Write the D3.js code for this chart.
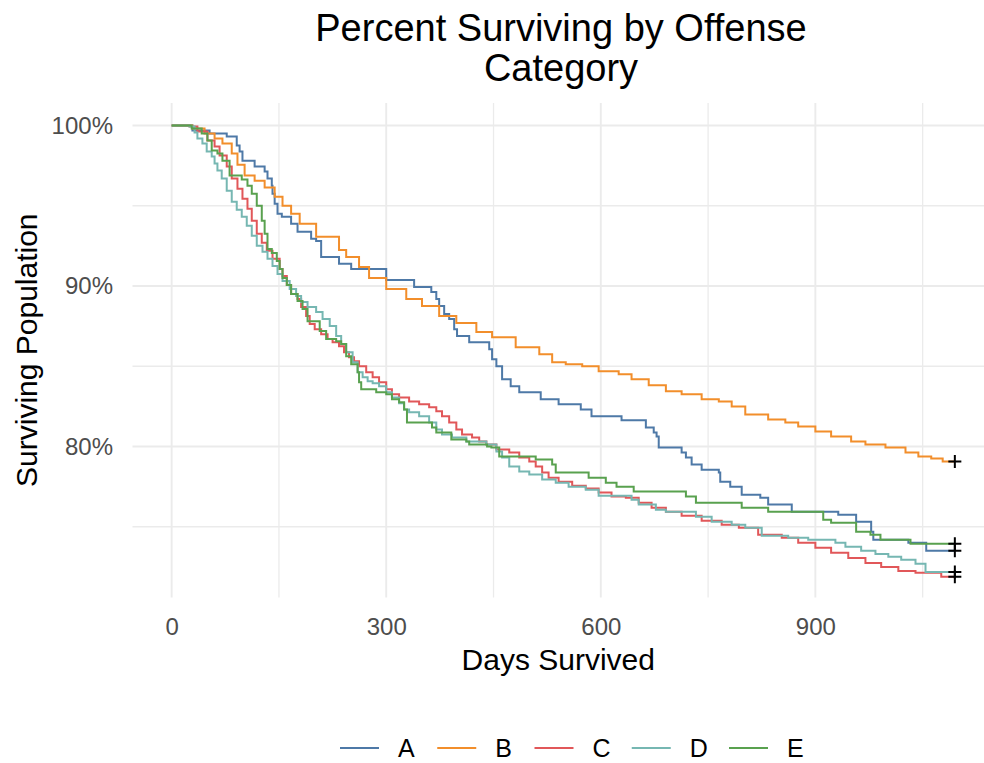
<!DOCTYPE html>
<html>
<head>
<meta charset="utf-8">
<script src="https://cdn.jsdelivr.net/npm/d3@7"></script>
<style>
  body { margin: 0; background: #fff; }
  svg { font-family: "Liberation Sans", Arial, sans-serif; display: block; }
</style>
</head>
<body>
<div class="diagram"></div>
<script>
// survival curves: [days, percent surviving]
var categories = ["A", "B", "C", "D", "E"];
var colors = ["#4E79A7", "#F28E2B", "#E15759", "#76B7B2", "#59A14F"];

var seriesA = [[0,100],[29,99.69],[53,99.5],[77,99.31],[91,98.75],[95,98.38],[99,97.81],[116,97.44],[130,97.13],[134,96.69],[140,96.25],[141,95.75],[144,95.13],[148,94.5],[154,94.31],[167,93.88],[176,93.38],[195,92.94],[202,92.81],[209,91.81],[234,91.38],[251,91.06],[300,90.38],[339,89.94],[363,89.63],[370,89.19],[374,88.75],[381,88.25],[388,87.94],[395,87.31],[399,86.88],[416,86.5],[444,86.06],[448,85.44],[454,85.0],[462,84.19],[474,83.75],[486,83.38],[516,82.94],[541,82.63],[572,82.31],[587,81.88],[629,81.63],[663,81.19],[674,80.88],[678,80.63],[681,79.94],[713,79.63],[719,79.31],[727,78.88],[741,78.56],[765,78.38],[767,77.81],[781,77.5],[797,77.0],[823,76.81],[834,76.38],[867,75.94],[932,75.75],[957,75.31],[978,74.69],[981,74.19],[1030,74.0],[1055,73.5],[1095,73.5]];

var seriesB = [[0,100],[29,99.81],[46,99.5],[60,99.19],[71,98.88],[84,98.25],[92,97.56],[102,96.88],[116,96.56],[130,96.13],[144,95.56],[155,95.0],[167,94.5],[179,93.88],[202,93.06],[234,92.25],[244,91.81],[262,91.19],[276,90.5],[300,89.81],[328,89.19],[350,88.75],[374,88.13],[398,87.69],[426,87.13],[448,86.81],[481,86.19],[514,85.75],[532,85.25],[551,85.13],[574,85.0],[597,84.69],[625,84.5],[643,84.19],[667,83.81],[691,83.44],[713,83.25],[741,82.94],[765,82.81],[783,82.5],[802,82.0],[834,81.69],[858,81.5],[876,81.25],[900,80.94],[922,80.63],[950,80.31],[970,80.13],[998,79.94],[1026,79.63],[1044,79.38],[1062,79.25],[1078,79.06],[1095,79.06]];

var seriesC = [[0,100],[25,99.94],[36,99.63],[50,99.06],[60,98.69],[67,98.13],[77,97.44],[84,96.69],[92,96.06],[99,95.44],[106,94.81],[112,94.06],[119,93.25],[126,92.69],[133,92.19],[141,91.69],[151,91.06],[155,90.63],[161,90.06],[167,89.5],[176,89.19],[181,88.69],[188,88.13],[193,87.63],[200,87.31],[209,87.0],[218,86.69],[225,86.5],[234,86.25],[241,85.88],[248,85.56],[255,85.31],[262,85.0],[272,84.63],[281,84.31],[290,84.0],[300,83.56],[308,83.25],[318,83.06],[332,82.81],[346,82.63],[360,82.44],[370,82.19],[378,81.88],[388,81.5],[398,81.06],[406,80.75],[420,80.56],[430,80.31],[440,80.13],[454,79.81],[472,79.63],[486,79.31],[500,79.06],[509,78.75],[518,78.38],[527,78.06],[541,77.81],[560,77.56],[579,77.38],[597,77.13],[615,76.88],[635,76.81],[653,76.5],[671,76.19],[691,75.94],[713,75.69],[741,75.38],[769,75.13],[793,74.94],[820,74.5],[853,74.31],[876,74.0],[900,73.69],[922,73.38],[946,73.06],[970,72.75],[992,72.5],[1016,72.25],[1040,72.13],[1076,71.88],[1095,71.88]];

var seriesD = [[0,100],[25,99.94],[32,99.56],[36,99.19],[43,98.88],[49,98.38],[56,98.06],[60,97.63],[64,97.19],[70,96.69],[77,95.94],[84,95.25],[91,94.75],[98,94.31],[105,93.75],[112,93.13],[119,92.5],[127,92.13],[134,91.69],[141,91.25],[148,90.75],[155,90.31],[165,89.81],[174,89.38],[181,89.0],[190,88.69],[202,88.38],[211,87.94],[221,87.5],[230,86.88],[237,86.38],[244,85.88],[253,85.25],[260,84.63],[267,84.31],[274,84.06],[281,83.94],[290,83.75],[300,83.38],[308,83.06],[318,82.69],[325,82.31],[332,82.13],[346,81.88],[360,81.5],[370,81.06],[378,80.75],[392,80.56],[412,80.31],[440,80.13],[454,79.69],[462,79.31],[472,78.75],[486,78.44],[500,78.25],[518,77.94],[537,77.75],[555,77.5],[579,77.31],[597,76.94],[643,76.69],[653,76.38],[677,76.06],[691,75.94],[733,75.63],[755,75.31],[783,75.13],[802,74.94],[825,74.44],[862,74.31],[890,74.19],[928,74.0],[942,73.75],[964,73.5],[984,73.31],[1002,73.13],[1020,72.94],[1040,72.69],[1054,72.19],[1095,72.19]];

var seriesE = [[0,100],[28,99.81],[42,99.5],[50,99.06],[56,98.44],[64,98.25],[71,97.81],[81,96.88],[98,96.63],[106,96.25],[112,95.75],[119,95.0],[126,94.06],[130,93.25],[134,92.31],[140,92.06],[147,91.56],[151,91.06],[155,90.5],[161,90.06],[167,89.5],[176,89.06],[183,88.56],[190,87.81],[207,87.19],[216,86.69],[230,86.56],[237,86.38],[244,85.63],[251,85.13],[260,84.63],[262,84.0],[265,83.56],[286,83.38],[300,83.25],[308,82.94],[318,82.75],[325,82.31],[329,81.5],[364,81.19],[370,80.88],[391,80.44],[412,80.31],[416,80.13],[441,80.0],[447,79.94],[458,79.38],[509,79.19],[532,78.88],[537,78.38],[583,78.06],[607,77.75],[622,77.5],[646,77.19],[719,76.88],[733,76.5],[797,76.19],[834,75.94],[911,75.44],[922,75.25],[957,74.69],[977,74.5],[991,74.19],[1033,73.94],[1095,73.94]];

var xMajor = [0, 300, 600, 900], xMinor = [150, 450, 750, 1050];
var yMajor = [80, 90, 100], yMinor = [75, 85, 95];

var width = 984, height = 763;
var panel = {left: 132.5, right: 994, top: 103, bottom: 597.4};

var svg = d3.select('.diagram')
  .append('svg')
  .attr('width', width)
  .attr('height', height);

svg.append('rect').attr('width', width).attr('height', height).attr('fill', '#fff');

var x = d3.scaleLinear().domain([-54.75, 1149.75]).range([panel.left, panel.right]),
    y = d3.scaleLinear().domain([70.6, 101.4]).range([panel.bottom, panel.top]);

var data = categories.map(function (id, i) {
  return {id: id, color: colors[i], values: [seriesA, seriesB, seriesC, seriesD, seriesE][i]};
});

// grid
var grid = svg.append('g').attr('class', 'grid').attr('stroke', '#ebebeb');

grid.selectAll('.vminor').data(xMinor).enter().append('line')
  .attr('x1', function (d) { return x(d); }).attr('x2', function (d) { return x(d); })
  .attr('y1', panel.top).attr('y2', panel.bottom).attr('stroke-width', 1.3);
grid.selectAll('.hminor').data(yMinor).enter().append('line')
  .attr('y1', function (d) { return y(d); }).attr('y2', function (d) { return y(d); })
  .attr('x1', panel.left).attr('x2', panel.right).attr('stroke-width', 1.3);
grid.selectAll('.vmajor').data(xMajor).enter().append('line')
  .attr('x1', function (d) { return x(d); }).attr('x2', function (d) { return x(d); })
  .attr('y1', panel.top).attr('y2', panel.bottom).attr('stroke-width', 1.9);
grid.selectAll('.hmajor').data(yMajor).enter().append('line')
  .attr('y1', function (d) { return y(d); }).attr('y2', function (d) { return y(d); })
  .attr('x1', panel.left).attr('x2', panel.right).attr('stroke-width', 1.9);

// curves
var line = d3.line()
  .curve(d3.curveStepAfter)
  .x(function (d) { return x(d[0]); })
  .y(function (d) { return y(d[1]); });

svg.selectAll('.curve')
  .data(data)
  .enter()
  .append('path')
  .attr('class', 'curve')
  .attr('fill', 'none')
  .attr('stroke', function (d) { return d.color; })
  .attr('stroke-width', 2)
  .attr('d', function (d) { return line(d.values); });

// censor marks at the end of each curve
svg.selectAll('.censor')
  .data(data)
  .enter()
  .append('path')
  .attr('class', 'censor')
  .attr('transform', function (d) {
    var last = d.values[d.values.length - 1];
    return 'translate(' + x(last[0]) + ',' + y(last[1]) + ')';
  })
  .attr('d', 'M-6.5,0H6.5M0,-6.5V6.5')
  .attr('stroke', '#000')
  .attr('stroke-width', 2);

// axes (labels only)
var yAxis = svg.append('g')
  .attr('transform', 'translate(' + panel.left + ',0)')
  .call(d3.axisLeft(y).tickValues(yMajor).tickFormat(function (d) { return d + '%'; }).tickSize(0).tickPadding(19.5));
var xAxis = svg.append('g')
  .attr('transform', 'translate(0,' + panel.bottom + ')')
  .call(d3.axisBottom(x).tickValues(xMajor).tickFormat(d3.format('d')).tickSize(0).tickPadding(21));

[xAxis, yAxis].forEach(function (g) {
  g.select('.domain').remove();
  g.selectAll('text')
    .attr('fill', '#4d4d4d')
    .style('font-size', '24px')
    .style('font-family', '"Liberation Sans", Arial, sans-serif');
});

// titles
var cx = 561;
svg.append('text')
  .attr('x', cx).attr('y', 41)
  .attr('text-anchor', 'middle')
  .style('font-size', '38px')
  .text('Percent Surviving by Offense');
svg.append('text')
  .attr('x', cx).attr('y', 81)
  .attr('text-anchor', 'middle')
  .style('font-size', '38px')
  .text('Category');

svg.append('text')
  .attr('x', (panel.left + 984) / 2).attr('y', 670)
  .attr('text-anchor', 'middle')
  .style('font-size', '30px')
  .text('Days Survived');

svg.append('text')
  .attr('transform', 'translate(37,' + ((panel.top + panel.bottom) / 2) + ') rotate(-90)')
  .attr('text-anchor', 'middle')
  .style('font-size', '30px')
  .text('Surviving Population');

// legend
var lx = d3.scaleBand().domain(categories).range([340, 826.25]);

var legend = svg.selectAll('.legend')
  .data(data)
  .enter()
  .append('g')
  .attr('class', 'legend')
  .attr('transform', function (d) { return 'translate(' + lx(d.id) + ',748)'; });

legend.append('line')
  .attr('x1', 0).attr('x2', 39)
  .attr('stroke', function (d) { return d.color; })
  .attr('stroke-width', 2);

legend.append('text')
  .attr('x', 58)
  .attr('dy', '0.35em')
  .style('font-size', '25px')
  .text(function (d) { return d.id; });
</script>
</body>
</html>
